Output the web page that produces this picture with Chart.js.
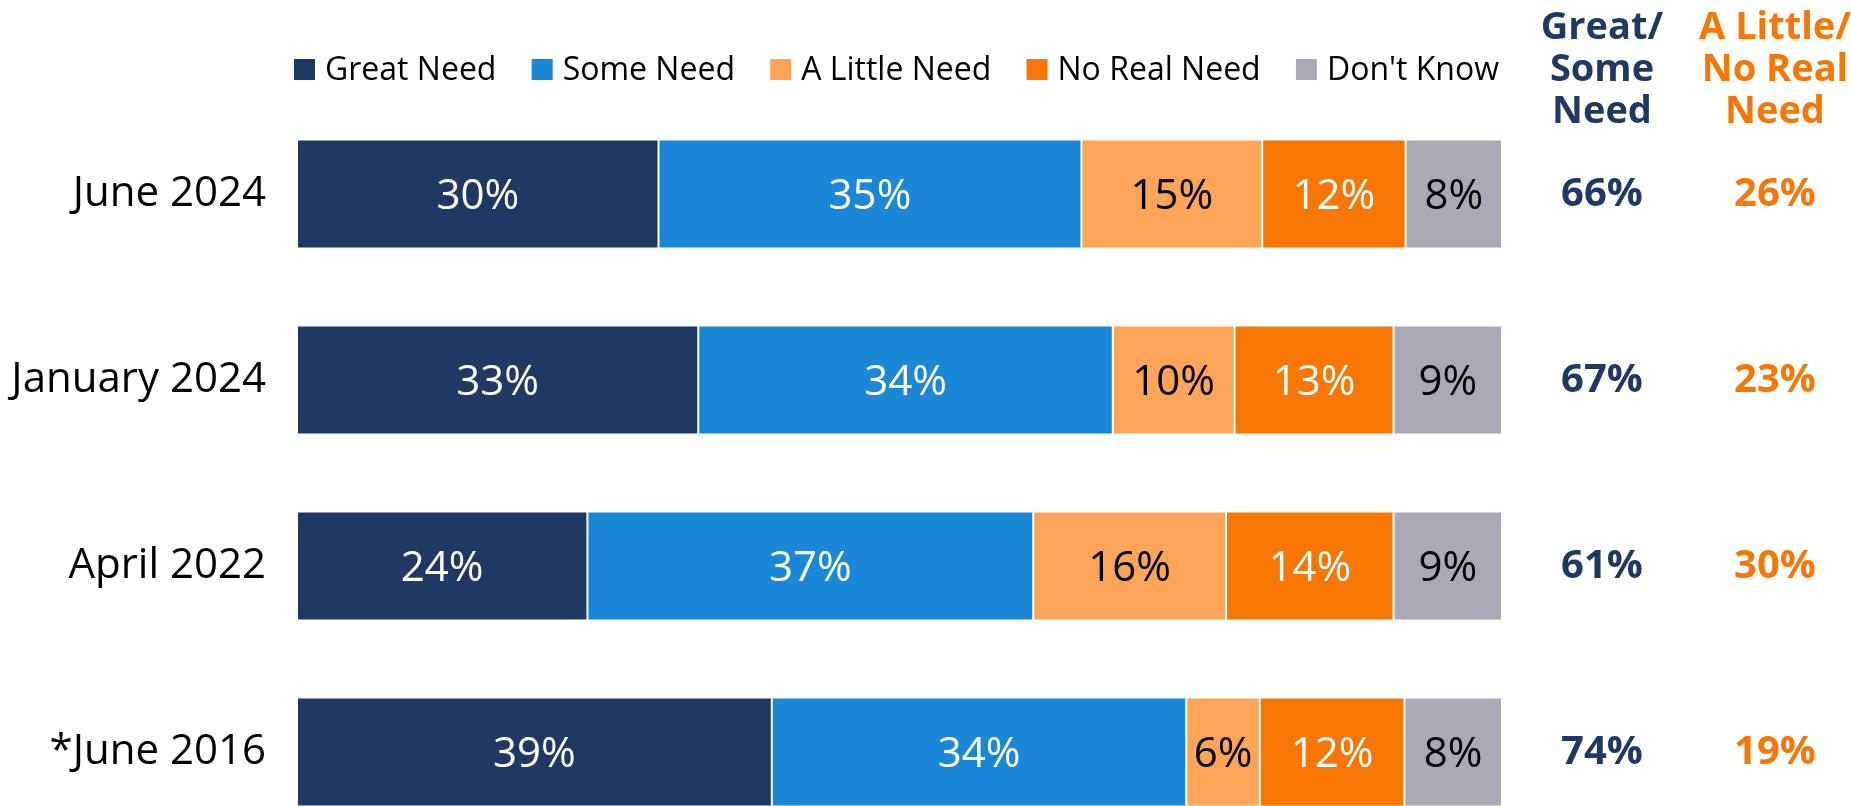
<!DOCTYPE html>
<html>
<head>
<meta charset="utf-8">
<script src="https://cdn.jsdelivr.net/npm/chart.js@4.4.1/dist/chart.umd.min.js"></script>
<style>
  html, body { margin: 0; padding: 0; background: #fff; overflow: hidden; }
  canvas { display: block; }
</style>
</head>
<body>
<canvas id="grafico" width="1851" height="846"></canvas>
<script>
const periodos = ["June 2024", "January 2024", "April 2022", "*June 2016"];

const greatNeed = [30.0, 33.3, 24.1, 39.4];
const someNeed = [35.1, 34.4, 37.0, 34.4];
const littleNeed = [15.0, 10.1, 16.0, 6.1];
const noRealNeed = [11.9, 13.2, 13.9, 12.0];
const dontKnow = [8.0, 9.0, 9.0, 8.1];

const totalGreatSome = [66, 67, 61, 74];
const totalLittleNo = [26, 23, 30, 19];

const tituloGreatSome = ["Great/", "Some", "Need"];
const tituloLittleNo = ["A Little/", "No Real", "Need"];

const FONTE = "'Open Sans', sans-serif";
const AZUL_ESCURO = "#1f3864";
const LARANJA = "#f77604";

// rotulos dentro das barras
const pluginRotulos = {
  id: "rotulos",
  afterDatasetsDraw(chart) {
    const ctx = chart.ctx;
    ctx.save();
    ctx.font = `42px ${FONTE}`;
    ctx.textAlign = "center";
    ctx.textBaseline = "middle";
    chart.data.datasets.forEach((ds, i) => {
      chart.getDatasetMeta(i).data.forEach((barra, j) => {
        ctx.fillStyle = ds.corTexto;
        ctx.fillText(Math.round(ds.data[j]) + "%", (barra.x + barra.base) / 2, barra.y + 3);
      });
    });
    ctx.restore();
  },
};

// legenda em linha acima das barras
const pluginLegenda = {
  id: "legenda",
  afterDraw(chart) {
    const ctx = chart.ctx;
    const area = chart.chartArea;
    const quadrado = 21;
    const espaco = 10;
    ctx.save();
    ctx.font = `32px ${FONTE}`;
    ctx.textBaseline = "alphabetic";
    const larguras = chart.data.datasets.map((ds) => ctx.measureText(ds.label).width);
    const somaItens = larguras.reduce((a, b) => a + b + quadrado + espaco, 0);
    const inicio = area.left - 3;
    const fim = area.right - 3;
    const intervalo = (fim - inicio - somaItens) / (larguras.length - 1);
    let x = inicio;
    chart.data.datasets.forEach((ds, i) => {
      ctx.fillStyle = ds.backgroundColor;
      ctx.fillRect(x, 59, quadrado, quadrado);
      ctx.fillStyle = "#000";
      ctx.fillText(ds.label, x + quadrado + espaco, 80);
      x += quadrado + espaco + larguras[i] + intervalo;
    });
    ctx.restore();
  },
};

// colunas de totais a direita
const pluginTotais = {
  id: "totais",
  afterDraw(chart) {
    const ctx = chart.ctx;
    const escalaY = chart.scales.y;
    const colunas = [
      { x: 1602, cor: AZUL_ESCURO, titulo: tituloGreatSome, valores: totalGreatSome },
      { x: 1775, cor: LARANJA, titulo: tituloLittleNo, valores: totalLittleNo },
    ];
    ctx.save();
    ctx.textAlign = "center";
    colunas.forEach((col) => {
      ctx.fillStyle = col.cor;
      ctx.font = `bold 38px ${FONTE}`;
      ctx.textBaseline = "alphabetic";
      col.titulo.forEach((linha, k) => {
        ctx.fillText(linha, col.x, 39 + k * 42);
      });
      ctx.font = `bold 40px ${FONTE}`;
      ctx.textBaseline = "middle";
      col.valores.forEach((v, j) => {
        ctx.fillText(v + "%", col.x, escalaY.getPixelForValue(j) + 1);
      });
    });
    ctx.restore();
  },
};

function criarSerie(label, dados, cor, corTexto) {
  return {
    label: label,
    data: dados,
    backgroundColor: cor,
    borderColor: "#ffffff",
    borderWidth: 1,
    borderSkipped: false,
    corTexto: corTexto,
    categoryPercentage: 1,
    barPercentage: 0.586,
  };
}

const ctx = document.getElementById("grafico").getContext("2d");

new Chart(ctx, {
  type: "bar",
  data: {
    labels: periodos,
    datasets: [
      criarSerie("Great Need", greatNeed, AZUL_ESCURO, "#ffffff"),
      criarSerie("Some Need", someNeed, "#1a88d6", "#ffffff"),
      criarSerie("A Little Need", littleNeed, "#fca457", "#000000"),
      criarSerie("No Real Need", noRealNeed, LARANJA, "#ffffff"),
      criarSerie("Don't Know", dontKnow, "#a9aab6", "#000000"),
    ],
  },
  options: {
    indexAxis: "y",
    responsive: false,
    animation: false,
    layout: {
      padding: { top: 101, right: 349, bottom: 1, left: 0 },
    },
    plugins: {
      legend: { display: false },
      tooltip: { enabled: false },
    },
    scales: {
      x: {
        stacked: true,
        display: false,
        min: 0,
        max: 100,
      },
      y: {
        stacked: true,
        grid: { display: false, drawTicks: false },
        border: { display: false },
        ticks: {
          color: "#000",
          padding: 31,
          font: { family: FONTE, size: 42 },
        },
        afterFit(escala) {
          escala.width = 297;
          escala.paddingTop = 0;
          escala.paddingBottom = 0;
        },
      },
    },
  },
  plugins: [pluginRotulos, pluginLegenda, pluginTotais],
});
</script>
</body>
</html>
